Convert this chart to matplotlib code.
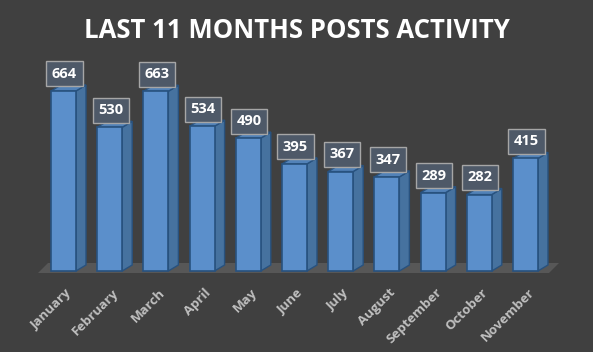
import numpy as np
import matplotlib.pyplot as plt
from matplotlib.patches import Polygon

months = ['January', 'February', 'March', 'April', 'May', 'June', 'July',
          'August', 'September', 'October', 'November']
posts = [664, 530, 663, 534, 490, 395, 367, 347, 289, 282, 415]

bg = '#404040'
front_c = '#5b8fcb'
side_c = '#46729f'
top_c = '#5282b8'
edge_c = '#28527f'
fnt = 'Open Sans'

# pixel -> data mapping (figure is 593x352 px)
px_x = 46.2          # px per bar slot
x0_px = 63.5         # center of first bar front
py = 0.2711          # px per post
base_px = 271

fig = plt.figure(figsize=(5.93, 3.52), dpi=100, facecolor=bg)
ax = fig.add_axes([0, 0, 1, 1])
ax.set_facecolor(bg)
ax.set_xlim(-x0_px / px_x, (593 - x0_px) / px_x)
ax.set_ylim((base_px - 352) / py, base_px / py)
ax.axis('off')

w = 0.27                 # half width of front face
dx = 10 / px_x           # depth offset
dy = 6 / py

# floor
fl = Polygon([(-25.5 / px_x, -2 / py), (485.5 / px_x, -2 / py),
              (495.5 / px_x, 8 / py), (-15.5 / px_x, 8 / py)],
             closed=True, fc='#575757', ec='none', zorder=1)
ax.add_patch(fl)

for i, (m, v) in enumerate(zip(months, posts)):
    l, r = i - w, i + w
    side = Polygon([(r, 0), (r + dx, dy), (r + dx, v + dy), (r, v)],
                   fc=side_c, ec=edge_c, lw=1, zorder=2)
    top = Polygon([(l, v), (r, v), (r + dx, v + dy), (l + dx, v + dy)],
                  fc=top_c, ec=edge_c, lw=1, zorder=2)
    front = Polygon([(l, 0), (r, 0), (r, v), (l, v)],
                    fc=front_c, ec=edge_c, lw=1.2, zorder=3)
    for p in (side, top, front):
        ax.add_patch(p)
    ax.text(i + 0.02, v + 63, str(v), ha='center', va='center',
            fontsize=10.5, fontweight='bold', color='white', family=fnt,
            zorder=5,
            bbox=dict(boxstyle='square,pad=0.38', fc='#4e5968',
                      ec='#a6a6a6', lw=1))
    ax.text(i + 2 / px_x, -15 / py, m, ha='right', va='top', rotation=45,
            rotation_mode='anchor', fontsize=9.5, fontweight='bold',
            color='#bfbfbf', family=fnt)

fig.text(0.5, 1 - 31 / 352, 'LAST 11 MONTHS POSTS ACTIVITY', ha='center',
         va='center', fontsize=18.5, fontweight='bold', color='white',
         family=fnt)

fig.savefig('out.png', dpi=100, facecolor=bg)
